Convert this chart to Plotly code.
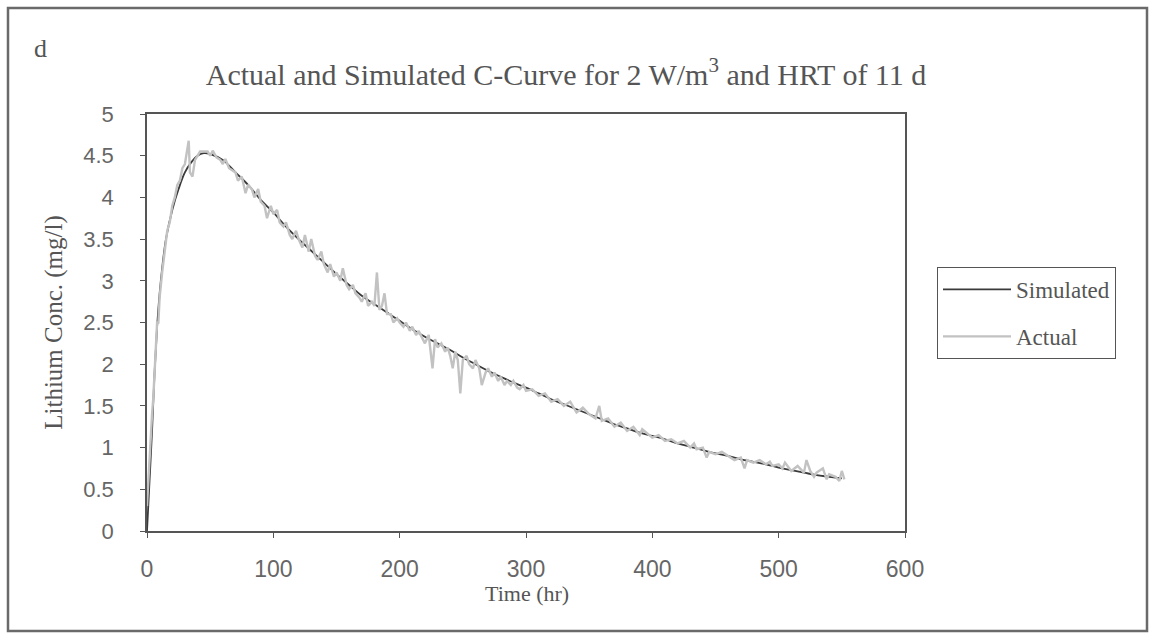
import plotly.graph_objects as go

# Simulated C-curve (hr, mg/l)
sim_time = [0, 2, 4, 6, 8, 10, 12, 15, 20, 25, 30, 35, 40, 45, 50, 60, 70, 80, 90, 100,
            110, 120, 130, 140, 150, 160, 170, 180, 190, 200, 210, 220, 230, 240, 250,
            260, 270, 280, 290, 300, 310, 320, 330, 340, 350, 360, 370, 380, 390, 400,
            410, 420, 430, 440, 450, 460, 470, 480, 490, 500, 510, 520, 530, 540, 550]
sim_conc = [0, 0.6, 1.2, 1.9, 2.45, 2.85, 3.15, 3.5, 3.85, 4.1, 4.3, 4.42, 4.5, 4.53, 4.52,
            4.45, 4.3, 4.15, 3.97, 3.82, 3.65, 3.5, 3.36, 3.22, 3.08, 2.95, 2.82, 2.72, 2.62,
            2.52, 2.42, 2.33, 2.25, 2.17, 2.08, 2.0, 1.92, 1.85, 1.78, 1.72, 1.65, 1.58, 1.52,
            1.46, 1.4, 1.34, 1.28, 1.23, 1.18, 1.14, 1.1, 1.05, 1.01, 0.97, 0.93, 0.9, 0.86,
            0.83, 0.8, 0.76, 0.73, 0.7, 0.67, 0.65, 0.63]

# Actual measured C-curve (hr, mg/l)
actual_points = [
    (0, 0.3), (1, 0.6), (2, 0.9), (3, 1.1), (4, 1.4), (5, 1.6), (6, 1.95), (7, 2.3), (8, 2.5),
    (9, 2.5), (10, 2.8), (12, 3.1), (14, 3.35), (16, 3.6), (18, 3.7), (20, 3.9), (22, 4.0),
    (24, 4.15), (26, 4.2), (28, 4.35), (30, 4.4), (32, 4.6), (33, 4.68), (34, 4.3), (36, 4.25),
    (38, 4.45), (40, 4.5), (42, 4.55), (45, 4.55), (48, 4.55), (50, 4.5), (52, 4.56), (55, 4.48),
    (58, 4.45), (60, 4.4), (62, 4.46), (65, 4.35), (68, 4.32), (70, 4.3), (72, 4.2), (75, 4.25),
    (78, 4.05), (80, 4.15), (83, 4.1), (85, 4.0), (88, 4.1), (90, 3.95), (93, 3.9), (95, 3.75),
    (98, 3.9), (100, 3.8), (103, 3.85), (105, 3.7), (108, 3.65), (110, 3.7), (113, 3.55),
    (115, 3.5), (118, 3.6), (120, 3.5), (123, 3.4), (125, 3.55), (128, 3.35), (130, 3.5),
    (133, 3.3), (135, 3.25), (138, 3.35), (140, 3.2), (143, 3.1), (145, 3.2), (148, 3.05),
    (150, 3.1), (153, 3.0), (155, 3.15), (158, 2.95), (160, 2.9), (163, 2.95), (165, 2.85),
    (168, 2.8), (170, 2.75), (173, 2.85), (175, 2.7), (178, 2.75), (180, 2.7), (182, 3.1),
    (184, 2.65), (186, 2.7), (188, 2.85), (190, 2.6), (193, 2.6), (195, 2.5), (198, 2.55),
    (200, 2.5), (203, 2.45), (205, 2.5), (208, 2.4), (210, 2.45), (213, 2.35), (215, 2.4),
    (218, 2.3), (220, 2.25), (223, 2.35), (226, 1.95), (228, 2.3), (230, 2.2), (233, 2.25),
    (236, 2.15), (238, 2.2), (240, 2.1), (242, 1.95), (244, 2.15), (246, 2.05), (248, 1.65),
    (250, 2.05), (253, 2.1), (255, 2.0), (258, 1.95), (260, 2.05), (263, 1.95), (265, 1.75),
    (268, 1.9), (270, 1.95), (273, 1.85), (275, 1.9), (278, 1.8), (280, 1.85), (283, 1.75),
    (285, 1.8), (288, 1.75), (290, 1.8), (293, 1.72), (295, 1.7), (298, 1.75), (300, 1.68),
    (305, 1.7), (310, 1.62), (315, 1.65), (320, 1.55), (325, 1.58), (330, 1.5), (335, 1.55),
    (340, 1.42), (345, 1.48), (350, 1.4), (355, 1.35), (358, 1.5), (360, 1.32), (365, 1.35),
    (370, 1.25), (375, 1.3), (380, 1.2), (385, 1.25), (390, 1.15), (392, 1.22), (395, 1.18),
    (400, 1.12), (405, 1.15), (410, 1.08), (415, 1.1), (420, 1.05), (425, 1.08), (430, 1.0),
    (433, 1.05), (435, 0.98), (440, 1.0), (443, 0.88), (445, 0.95), (450, 0.92), (455, 0.95),
    (460, 0.9), (465, 0.85), (470, 0.88), (473, 0.75), (475, 0.85), (480, 0.82), (485, 0.85),
    (490, 0.8), (493, 0.83), (495, 0.78), (500, 0.8), (503, 0.75), (505, 0.82), (510, 0.72),
    (515, 0.78), (520, 0.7), (522, 0.85), (525, 0.72), (528, 0.65), (530, 0.7), (535, 0.75),
    (538, 0.62), (540, 0.68), (545, 0.65), (548, 0.6), (550, 0.72), (552, 0.62),
]
actual_time = [p[0] for p in actual_points]
actual_conc = [p[1] for p in actual_points]

x_ticks = [0, 100, 200, 300, 400, 500, 600]
y_ticks = [0, 0.5, 1, 1.5, 2, 2.5, 3, 3.5, 4, 4.5, 5]
y_tick_labels = ["0", "0.5", "1", "1.5", "2", "2.5", "3", "3.5", "4", "4.5", "5"]

SERIF = "Liberation Serif"
SANS = "Liberation Sans"
AXIS = "#555555"

fig = go.Figure()
fig.add_trace(go.Scatter(x=sim_time, y=sim_conc, mode="lines", name="Simulated",
                         legendgroup="sim",
                         line=dict(color="#3a3a3a", width=1.8, shape="spline")))
fig.add_trace(go.Scatter(x=actual_time, y=actual_conc, mode="lines", name="Actual",
                         legendgroup="act",
                         line=dict(color="#c2c2c2", width=2.4)))

L, R, T, B = 147, 905, 114, 531
W, H = 1154, 634
pw, ph = R - L, B - T

def px(xp):
    return (xp - L) / pw

def py(yp):
    return (B - yp) / ph

fig.update_layout(
    width=W, height=H,
    margin=dict(l=L, r=W - R, t=T, b=H - B, pad=0),
    paper_bgcolor="white", plot_bgcolor="white",
    font=dict(family=SERIF, color="#555555"),
    showlegend=True,
    legend=dict(x=px(937), y=py(267), xanchor="left", yanchor="top",
                bordercolor=AXIS, borderwidth=1, bgcolor="white",
                font=dict(family=SERIF, size=23, color="#555555"),
                tracegroupgap=14, itemwidth=68),
    title=dict(text="Actual and Simulated C-Curve for 2 W/m<sup>3</sup> and HRT of 11 d",
               x=px(566), xanchor="center", y=1 - 74 / H, yanchor="middle",
               xref="paper", font=dict(family=SERIF, size=30, color="#555555")),
    xaxis=dict(range=[0, 600], tickvals=x_ticks, showgrid=False, zeroline=False,
               showline=True, linecolor=AXIS, linewidth=1.5, mirror=True,
               ticks="outside", ticklen=5, tickcolor=AXIS, ticklabelstandoff=12,
               tickfont=dict(family=SANS, size=23, color="#666666")),
    yaxis=dict(range=[0, 5], tickvals=y_ticks, ticktext=y_tick_labels, showgrid=False,
               zeroline=False, showline=True, linecolor=AXIS, linewidth=1.5, mirror=True,
               ticks="outside", ticklen=5, tickcolor=AXIS, ticklabelstandoff=22,
               tickfont=dict(family=SANS, size=22, color="#666666"),
               title=dict(text="Lithium Conc. (mg/l)", standoff=14,
                          font=dict(family=SERIF, size=25, color="#555555"))),
)

# outer frame
fig.add_shape(type="rect", xref="paper", yref="paper",
              x0=px(8), x1=px(1147), y0=py(631), y1=py(8),
              line=dict(color="#6a6a6a", width=2.5), layer="below")

fig.add_annotation(text="d", xref="paper", yref="paper", x=px(40), y=py(48),
                   xanchor="center", yanchor="middle", showarrow=False,
                   font=dict(family=SERIF, size=26, color="#555555"))

fig.add_annotation(text="Time (hr)", xref="paper", yref="paper", x=px(527), y=py(593),
                   xanchor="center", yanchor="middle", showarrow=False,
                   font=dict(family=SERIF, size=22, color="#555555"))

fig.write_html("out.html", config={"displayModeBar": False},
               post_script="document.body.style.margin='0';document.body.style.overflow='hidden';")
